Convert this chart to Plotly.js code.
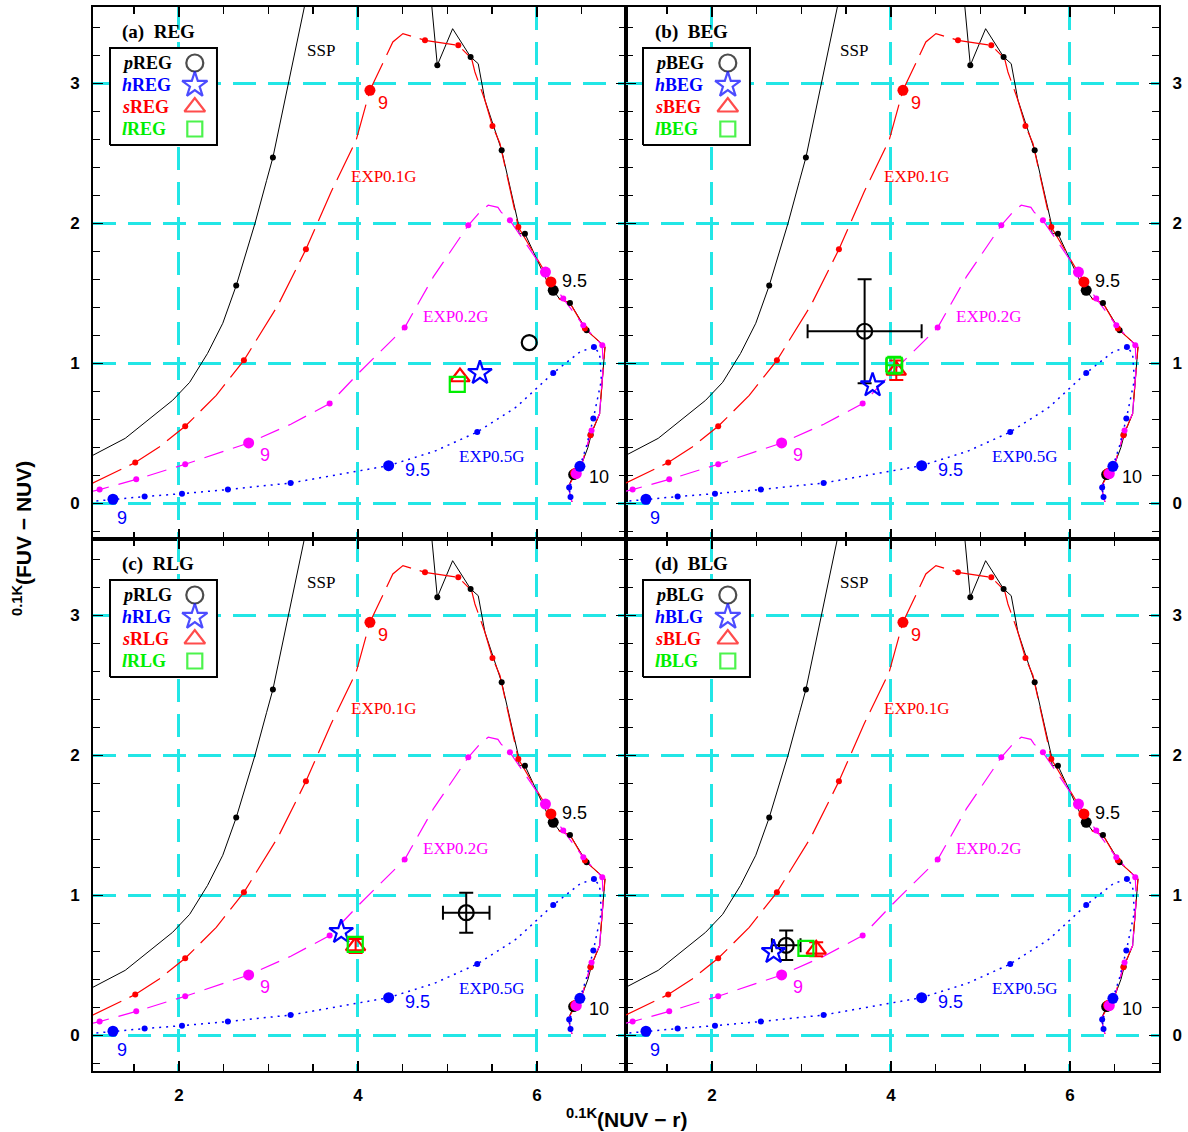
<!DOCTYPE html>
<html><head><meta charset="utf-8">
<script src="https://cdn.plot.ly/plotly-3.0.1.min.js"></script>
<style>html,body{margin:0;padding:0;background:#fff}</style>
</head><body><div id="chart" style="width:1188px;height:1132px"></div>
<script>
// ---- model tracks ----
const sspX = [1.00,1.40,1.93,2.12,2.32,2.49,2.64,2.85,2.98,3.05,3.426,4.815,4.887,5.058,5.259,5.344,5.419,5.606,5.792,5.80,5.866,6.108,6.182,6.25,6.369,6.555,6.76,6.74,6.70,6.61,6.57,6.50,6.41,6.35,6.39];
const sspY = [0.33,0.464,0.736,0.864,1.071,1.286,1.555,2.0,2.307,2.47,3.62,3.62,3.129,3.39,3.188,3.14,2.879,2.521,1.998,1.926,1.926,1.593,1.521,1.462,1.431,1.236,1.117,0.974,0.64,0.50,0.40,0.28,0.205,0.117,0.01];
const sspDotX = [2.64,3.05,4.887,5.259,5.606,5.866,6.369,6.555,6.60];
const sspDotY = [1.555,2.47,3.129,3.188,2.521,1.926,1.431,1.236,0.49];
const sspBigX = [6.182,6.41];
const sspBigY = [1.521,0.205];

const exp01X = [1.00,1.04,1.512,1.78,2.07,2.417,2.726,3.106,3.419,3.70,3.98,4.134,4.39,4.503,4.749,5.121,5.27,5.307,5.419,5.503,5.587,5.792,6.156,6.25,6.369,6.536,6.76,6.74,6.70,6.598,6.50,6.43,6.35,6.39];
const exp01Y = [0.125,0.145,0.291,0.402,0.55,0.771,1.021,1.414,1.814,2.224,2.593,2.95,3.295,3.355,3.307,3.271,3.176,3.081,2.879,2.695,2.57,1.974,1.581,1.46,1.431,1.248,1.117,0.974,0.64,0.486,0.28,0.215,0.117,0.01];
const exp01DotX = [1.512,2.07,2.726,3.419,4.749,5.121,5.503,5.792,6.536,6.598];
const exp01DotY = [0.291,0.55,1.021,1.814,3.307,3.271,2.695,1.974,1.248,0.486];
const exp01BigX = [4.134,6.156,6.43];
const exp01BigY = [2.95,1.581,0.215];

const exp02X = [1.00,1.114,1.523,2.07,2.779,3.25,3.684,4.02,4.522,4.842,5.233,5.363,5.456,5.564,5.60,5.698,5.85,6.095,6.294,6.518,6.73,6.74,6.70,6.61,6.50,6.44,6.35,6.39];
const exp02Y = [0.082,0.098,0.171,0.279,0.431,0.565,0.712,0.938,1.255,1.617,1.986,2.081,2.129,2.114,2.08,2.021,1.88,1.652,1.462,1.271,1.129,0.974,0.64,0.52,0.28,0.212,0.117,0.01];
const exp02DotX = [1.114,1.523,2.07,3.684,4.522,5.233,5.698,6.294,6.518,6.73,6.61];
const exp02DotY = [0.098,0.171,0.279,0.712,1.255,1.986,2.021,1.462,1.271,1.129,0.52];
const exp02BigX = [2.779,6.095,6.44];
const exp02BigY = [0.431,1.652,0.212];

const exp05X = [1.00,1.263,1.617,2.034,2.547,3.248,3.83,4.343,4.85,5.333,5.77,6.182,6.48,6.637,6.70,6.72,6.63,6.55,6.48,6.36,6.375,6.39];
const exp05Y = [0.012,0.029,0.048,0.069,0.098,0.145,0.21,0.269,0.37,0.509,0.688,0.931,1.081,1.117,1.07,0.879,0.605,0.40,0.264,0.112,0.045,0.002];
const exp05DotX = [1.617,2.034,2.547,3.248,5.333,6.182,6.637,6.63,6.36,6.375];
const exp05DotY = [0.048,0.069,0.098,0.145,0.509,0.931,1.117,0.605,0.112,0.045];
const exp05BigX = [1.263,4.343,6.48];
const exp05BigY = [0.029,0.269,0.264];

// ---- observed samples: order p, h, s, l ----
const sampleTags = ['p','h','s','l'];
const panelNames = ['REG','BEG','RLG','BLG'];
const panelTags = ['(a)','(b)','(c)','(d)'];
const regX = [5.914,5.363,5.14,5.11],  regY = [1.148,0.931,0.902,0.85],  regEX = [0,0,0,0],      regEY = [0,0,0,0];
const begX = [3.706,3.795,4.06,4.037], begY = [1.229,0.843,0.95,0.986],  begEX = [0.637,0,0,0.09], begEY = [0.372,0,0.07,0.06];
const rlgX = [5.21,3.813,3.974,3.97],  rlgY = [0.876,0.738,0.638,0.65],  rlgEX = [0.26,0,0,0],    rlgEY = [0.143,0,0.05,0];
const blgX = [2.83,2.689,3.165,3.05],  blgY = [0.643,0.595,0.614,0.621], blgEX = [0.16,0,0,0],    blgEY = [0.105,0,0.05,0];

// ---- curve labels ----
const curveLabelText = ['SSP','9','EXP0.1G','9.5','EXP0.2G','9','EXP0.5G','9.5','9','10'];
const curveLabelX = [3.587,4.279,4.291,6.425,5.095,2.961,5.497,4.670,1.363,6.693];
const curveLabelY = [3.236,2.857,2.336,1.586,1.336,0.343,0.336,0.236,-0.107,0.186];

// ---- styles ----
const BLACK='#000000', RED='#FF0000', MAG='#FF00FF', BLUE='#0000FF', GREEN='#00EE00', CYAN='#22E6E6';
const labelStyle = [
  {c:BLACK,f:'Liberation Serif',s:17},{c:RED,f:'Liberation Sans',s:18},{c:RED,f:'Liberation Serif',s:17},
  {c:BLACK,f:'Liberation Sans',s:18},{c:MAG,f:'Liberation Serif',s:17},{c:MAG,f:'Liberation Sans',s:18},
  {c:BLUE,f:'Liberation Serif',s:17},{c:BLUE,f:'Liberation Sans',s:18},{c:BLUE,f:'Liberation Sans',s:18},
  {c:BLACK,f:'Liberation Sans',s:18}];
const obsColors = [BLACK,BLUE,RED,GREEN];
const obsSymbols = ['circle-open','star-open','triangle-up-open','square-open'];
const obsSizes = [15,18,17,15];

const obsSets = [[regX,regY,regEX,regEY],[begX,begY,begEX,begEY],[rlgX,rlgY,rlgEX,rlgEY],[blgX,blgY,blgEX,blgEY]];

// legend frame (axes-fraction layout)
const boxX = [0.0319,0.2326,0.2326,0.0319,0.0319];
const boxY = [0.7406,0.7406,0.9229,0.9229,0.7406];
const rowY = [0.8947,0.8534,0.812,0.7707];
const symX = 0.191;

const traces = [];
const annotations = [];
const layout = {
  width:1188, height:1132, showlegend:false,
  margin:{l:93, r:29, t:7, b:61},
  paper_bgcolor:'#fff', plot_bgcolor:'#fff',
  font:{family:'Liberation Sans', color:'#000'}
};

const xDom = [[0,0.5],[0.5,1],[0,0.5],[0.5,1]];
const yDom = [[0.5,1],[0.5,1],[0,0.5],[0,0.5]];

function axisBase(){
  return {
    showline:true, linewidth:2, linecolor:'#000', mirror:'ticks',
    ticks:'inside', ticklen:10, tickwidth:1.5, tickcolor:'#000',
    showgrid:true, gridcolor:CYAN, gridwidth:3, griddash:'23px,12px',
    zeroline:false, fixedrange:true,
    tickfont:{family:'Liberation Sans', size:17, weight:'bold', color:'#000'},
    ticklabelstandoff:8
  };
}

for (let i=0;i<4;i++){
  const n = i+1;
  const xa = n===1?'x':'x'+n, ya = n===1?'y':'y'+n;
  const xk = n===1?'xaxis':'xaxis'+n, yk = n===1?'yaxis':'yaxis'+n;
  const hx = 'x'+(n+4), hy = 'y'+(n+4);
  layout[xk] = Object.assign(axisBase(), {
    domain:xDom[i], anchor:ya, range:[1.04,6.995], tick0:0, dtick:2,
    showticklabels: i>=2,
    minor:{tick0:0, dtick:0.5, ticks:'inside', ticklen:7, tickwidth:1.5, tickcolor:'#000', showgrid:false}
  });
  layout[yk] = Object.assign(axisBase(), {
    domain:yDom[i], anchor:xa, range:[-0.255,3.545], tick0:0, dtick:1,
    side: (i%2===0)?'left':'right',
    minor:{tick0:0, dtick:0.2, ticks:'inside', ticklen:7, tickwidth:1.5, tickcolor:'#000', showgrid:false}
  });
  layout['xaxis'+(n+4)] = {overlaying:xa, anchor:hy, range:[0,1], visible:false, fixedrange:true};
  layout['yaxis'+(n+4)] = {overlaying:ya, anchor:hx, range:[0,1], visible:false, fixedrange:true};

  const common = {xaxis:xa, yaxis:ya, hoverinfo:'skip'};
  // lines
  traces.push(Object.assign({x:sspX, y:sspY, mode:'lines', line:{color:BLACK, width:1}}, common));
  traces.push(Object.assign({x:exp01X, y:exp01Y, mode:'lines', line:{color:RED, width:1.2, dash:'36px,9px'}}, common));
  traces.push(Object.assign({x:exp02X, y:exp02Y, mode:'lines', line:{color:MAG, width:1.2, dash:'20px,10px'}}, common));
  traces.push(Object.assign({x:exp05X, y:exp05Y, mode:'lines', line:{color:BLUE, width:1.5, dash:'2px,5px'}}, common));
  // dots
  const dotSets = [[sspDotX,sspDotY,sspBigX,sspBigY,BLACK],[exp01DotX,exp01DotY,exp01BigX,exp01BigY,RED],
                   [exp02DotX,exp02DotY,exp02BigX,exp02BigY,MAG],[exp05DotX,exp05DotY,exp05BigX,exp05BigY,BLUE]];
  dotSets.forEach(d=>{
    traces.push(Object.assign({x:d[0], y:d[1], mode:'markers', marker:{color:d[4], size:6}}, common));
    traces.push(Object.assign({x:d[2], y:d[3], mode:'markers', marker:{color:d[4], size:11}}, common));
  });
  // observations
  const o = obsSets[i];
  for (let k=0;k<4;k++){
    const t = Object.assign({
      x:[o[0][k]], y:[o[1][k]], mode:'markers',
      marker:{symbol:obsSymbols[k], size:obsSizes[k], color:obsColors[k], line:{width:2.2, color:obsColors[k]}}
    }, common);
    if (o[2][k]>0) t.error_x = {type:'data', array:[o[2][k]], visible:true, color:obsColors[k], thickness:2, width:7};
    if (o[3][k]>0) t.error_y = {type:'data', array:[o[3][k]], visible:true, color:obsColors[k], thickness:2, width:7};
    traces.push(t);
  }
  // legend frame + keys (on an overlay axis pair spanning 0..1 of the panel)
  traces.push({x:boxX, y:boxY, xaxis:hx, yaxis:hy, mode:'lines', fill:'toself', fillcolor:'#ffffff',
    line:{color:'#000', width:2}, hoverinfo:'skip'});
  traces.push({x:[symX,symX,symX,symX], y:rowY, xaxis:hx, yaxis:hy, mode:'markers', hoverinfo:'skip',
    marker:{symbol:obsSymbols, size:[17,19,18,15], color:obsColors, line:{width:2.2, color:obsColors}}});
  for (let k=0;k<4;k++){
    annotations.push({xref:xa+' domain', yref:ya+' domain', x:0.0507, y:rowY[k], xanchor:'left', yanchor:'middle',
      showarrow:false, font:{family:'Liberation Serif', size:18, color:obsColors[k]},
      text:'<b><i>'+sampleTags[k]+'</i>'+panelNames[i]+'</b>'});
  }
  // panel title
  annotations.push({xref:xa+' domain', yref:ya+' domain', x:0.0507, y:0.953, xanchor:'left', yanchor:'middle',
    showarrow:false, font:{family:'Liberation Serif', size:19, color:'#000'},
    text:'<b>'+panelTags[i]+'  '+panelNames[i]+'</b>'});
  // curve labels
  for (let k=0;k<curveLabelText.length;k++){
    annotations.push({xref:xa, yref:ya, x:curveLabelX[k], y:curveLabelY[k], xanchor:'center', yanchor:'middle',
      showarrow:false, text:curveLabelText[k], font:{family:labelStyle[k].f, size:labelStyle[k].s, color:labelStyle[k].c}});
  }
}

// axis titles
annotations.push({xref:'paper', yref:'paper', x:0.5, y:-0.0442, xanchor:'center', yanchor:'middle', showarrow:false,
  font:{family:'Liberation Sans', size:21, color:'#000'},
  text:'<b><sup>0.1K</sup>(NUV − r)</b>'});
annotations.push({xref:'paper', yref:'paper', x:-0.0666, y:0.5, xanchor:'center', yanchor:'middle', showarrow:false,
  textangle:-90, font:{family:'Liberation Sans', size:21, color:'#000'},
  text:'<b><sup>0.1K</sup>(FUV − NUV)</b>'});

layout.annotations = annotations;

Plotly.newPlot('chart', traces, layout, {displayModeBar:false, staticPlot:true});
</script>
</body></html>
